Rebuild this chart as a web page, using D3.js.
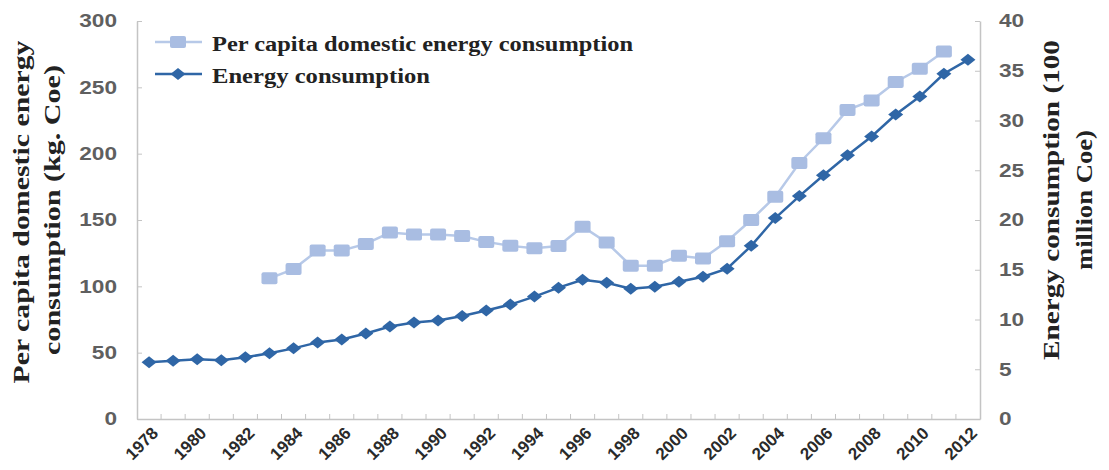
<!DOCTYPE html>
<html>
<head>
<meta charset="utf-8">
<script src="https://cdn.jsdelivr.net/npm/d3@7"></script>
<style>
  body { margin: 0; background: #fff; }
  .tick text { font-family: "Liberation Sans", Arial, sans-serif; }
</style>
</head>
<body>
<script>
// categories
const years = [1978, 1979, 1980, 1981, 1982, 1983, 1984, 1985, 1986, 1987, 1988, 1989,
  1990, 1991, 1992, 1993, 1994, 1995, 1996, 1997, 1998, 1999, 2000, 2001, 2002, 2003,
  2004, 2005, 2006, 2007, 2008, 2009, 2010, 2011, 2012];

// kg Coe per capita (left axis), no values before 1983 or for 2012
const perCapita = [null, null, null, null, null, 106, 113, 127, 127, 132, 140.5, 139,
  139, 138, 133.5, 130.5, 128.7, 130.4, 145, 133, 115.6, 115.6, 123, 121, 134, 150,
  167.6, 193, 211.6, 233, 240, 254, 264, 277, null];

// 100 million Coe (right axis)
const energy = [5.7, 5.85, 6.0, 5.9, 6.2, 6.6, 7.1, 7.7, 8.0, 8.6, 9.3, 9.7,
  9.9, 10.35, 10.9, 11.5, 12.3, 13.2, 14.0, 13.7, 13.1, 13.3, 13.8, 14.3, 15.1, 17.4,
  20.2, 22.4, 24.5, 26.5, 28.4, 30.6, 32.4, 34.7, 36.1];

const leftTicks = [0, 50, 100, 150, 200, 250, 300];
const rightTicks = [0, 5, 10, 15, 20, 25, 30, 35, 40];
const yearLabels = [1978, 1980, 1982, 1984, 1986, 1988, 1990, 1992, 1994, 1996,
  1998, 2000, 2002, 2004, 2006, 2008, 2010, 2012];

const seriesNames = ["Per capita domestic energy consumption", "Energy consumption"];

document.addEventListener("DOMContentLoaded", function() {
  const width = 1109;
  const height = 470;
  const svg = d3.select("body").append("svg").attr("width", width).attr("height", height);

  const lightBlue = "#a9bde2";
  const lightLine = "#b7c9e8";
  const darkBlue = "#2f66a6";
  const axisGrey = "#c4c4c4";

  // scales
  const x = d3.scaleBand().domain(years).range([137, 980]);
  const cx = (d) => x(d) + x.bandwidth() / 2;
  const yL = d3.scaleLinear().domain([0, 300]).range([419, 21]);
  const yR = d3.scaleLinear().domain([0, 40]).range([419, 21]);

  // left axis
  const leftAxis = svg.append("g")
    .attr("transform", "translate(137,0)")
    .call(d3.axisLeft(yL).tickValues(leftTicks).tickSizeInner(-5).tickSizeOuter(0).tickPadding(20));

  // right axis
  const rightAxis = svg.append("g")
    .attr("transform", "translate(980,0)")
    .call(d3.axisRight(yR).tickValues(rightTicks).tickSizeInner(-5).tickSizeOuter(0).tickPadding(19));

  [leftAxis, rightAxis].forEach((g) => {
    g.select(".domain").attr("stroke", axisGrey).attr("stroke-width", 1.5);
    g.selectAll(".tick line").attr("stroke", axisGrey);
    g.selectAll(".tick text")
      .attr("fill", "#5f5f5f")
      .attr("font-size", 18)
      .attr("font-weight", "bold")
      .attr("textLength", function() { return this.textContent.length * 12.6; })
      .attr("lengthAdjust", "spacingAndGlyphs");
  });

  // bottom axis, labels every other year
  const bottomAxis = svg.append("g")
    .attr("transform", "translate(0,419)")
    .call(d3.axisBottom(x).tickValues(yearLabels).tickSize(0));

  bottomAxis.select(".domain").attr("stroke", axisGrey).attr("stroke-width", 1.5);
  bottomAxis.selectAll(".tick text")
    .attr("x", 0).attr("y", 0).attr("dy", "0.35em")
    .attr("text-anchor", "end")
    .attr("fill", "#2a2a2a")
    .attr("font-size", 17)
    .attr("font-weight", "bold")
    .attr("transform", "translate(6,11) rotate(-45)");

  // small tick marks between the categories
  svg.append("g").selectAll("line")
    .data(years.slice(1))
    .enter()
    .append("line")
    .attr("x1", (d) => x(d)).attr("x2", (d) => x(d))
    .attr("y1", 419).attr("y2", 414)
    .attr("stroke", axisGrey);

  // per capita line + squares
  const lineL = d3.line()
    .defined((d, i) => perCapita[i] !== null)
    .x((d) => cx(d))
    .y((d, i) => yL(perCapita[i]));

  svg.append("path")
    .datum(years)
    .attr("d", lineL)
    .attr("fill", "none")
    .attr("stroke", lightLine)
    .attr("stroke-width", 2.5);

  svg.append("g").selectAll("rect")
    .data(years.filter((d, i) => perCapita[i] !== null))
    .enter()
    .append("rect")
    .attr("x", (d) => cx(d) - 8)
    .attr("y", (d) => yL(perCapita[years.indexOf(d)]) - 6)
    .attr("width", 16)
    .attr("height", 12)
    .attr("rx", 2)
    .attr("fill", lightBlue);

  // energy line + diamonds
  const lineR = d3.line()
    .x((d) => cx(d))
    .y((d, i) => yR(energy[i]));

  svg.append("path")
    .datum(years)
    .attr("d", lineR)
    .attr("fill", "none")
    .attr("stroke", darkBlue)
    .attr("stroke-width", 2.5);

  const diamond = "M0,-6L7.5,0L0,6L-7.5,0Z";
  svg.append("g").selectAll("path")
    .data(years)
    .enter()
    .append("path")
    .attr("d", diamond)
    .attr("transform", (d, i) => "translate(" + cx(d) + "," + yR(energy[i]) + ")")
    .attr("fill", darkBlue);

  // legend
  const legend = svg.append("g").attr("id", "legend");
  const legendY = [42, 74];
  const legendLen = [421, 218];

  legend.append("line")
    .attr("x1", 155).attr("x2", 202).attr("y1", legendY[0]).attr("y2", legendY[0])
    .attr("stroke", lightLine).attr("stroke-width", 2.5);
  legend.append("rect")
    .attr("x", 170).attr("y", legendY[0] - 6).attr("width", 16).attr("height", 12).attr("rx", 2)
    .attr("fill", lightBlue);

  legend.append("line")
    .attr("x1", 155).attr("x2", 202).attr("y1", legendY[1]).attr("y2", legendY[1])
    .attr("stroke", darkBlue).attr("stroke-width", 2.5);
  legend.append("path")
    .attr("d", diamond)
    .attr("transform", "translate(178," + legendY[1] + ")")
    .attr("fill", darkBlue);

  seriesNames.forEach((name, i) => {
    legend.append("text")
      .attr("x", 212)
      .attr("y", legendY[i] + 9)
      .attr("font-family", "'Liberation Serif', 'Times New Roman', serif")
      .attr("font-size", 20)
      .attr("font-weight", "bold")
      .attr("fill", "#222")
      .attr("textLength", legendLen[i])
      .attr("lengthAdjust", "spacingAndGlyphs")
      .text(name);
  });

  // axis titles
  const titles = [
    { text: "Per capita domestic energy", x: 29, y: 212, len: 343 },
    { text: "consumption (kg. Coe)", x: 60, y: 210, len: 290 },
    { text: "Energy consumption (100", x: 1059, y: 200, len: 320 },
    { text: "million Coe)", x: 1092, y: 200, len: 140 }
  ];

  titles.forEach((t) => {
    svg.append("text")
      .attr("transform", "translate(" + t.x + "," + t.y + ") rotate(-90)")
      .attr("text-anchor", "middle")
      .attr("font-family", "'Liberation Serif', 'Times New Roman', serif")
      .attr("font-size", 23)
      .attr("font-weight", "bold")
      .attr("fill", "#222")
      .attr("textLength", t.len)
      .attr("lengthAdjust", "spacingAndGlyphs")
      .text(t.text);
  });
});
</script>
</body>
</html>
